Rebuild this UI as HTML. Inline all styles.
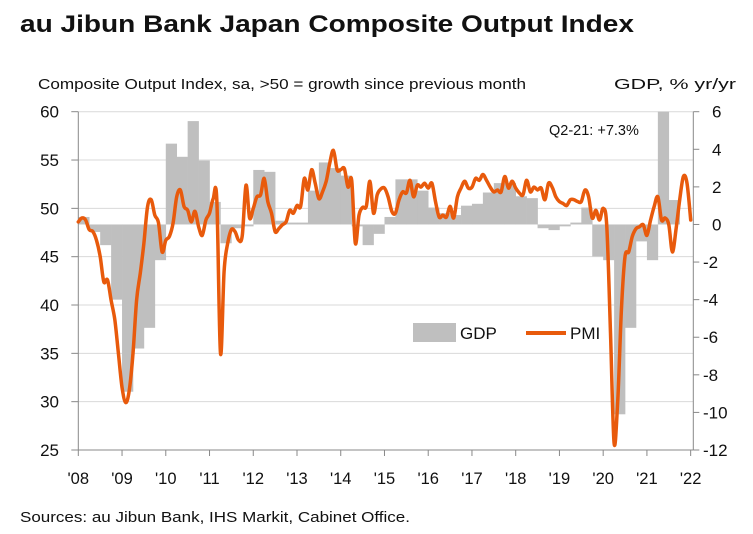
<!DOCTYPE html>
<html><head><meta charset="utf-8"><style>
body{margin:0;background:#fff;width:753px;height:534px;overflow:hidden;font-family:"Liberation Sans",sans-serif}
svg{display:block}
text{font-family:"Liberation Sans",sans-serif;fill:#111}
</style></head><body>
<svg id="chart" width="753" height="534">
<text x="20" y="32" font-size="24.5" font-weight="bold" textLength="614" lengthAdjust="spacingAndGlyphs">au Jibun Bank Japan Composite Output Index</text>
<text x="38" y="89" font-size="14.5" textLength="488" lengthAdjust="spacingAndGlyphs">Composite Output Index, sa, &gt;50 = growth since previous month</text>
<text x="614" y="89" font-size="14.5" textLength="122" lengthAdjust="spacingAndGlyphs">GDP, % yr/yr</text>
<text x="20" y="522" font-size="14.5" textLength="390" lengthAdjust="spacingAndGlyphs">Sources: au Jibun Bank, IHS Markit, Cabinet Office.</text>
<g id="grid"></g><g id="bars"></g><g id="axes"></g><g id="line"></g>
<text x="549" y="135" font-size="14.5">Q2-21: +7.3%</text>
<g>
<rect x="413" y="323" width="43" height="19" fill="#bfbfbf"></rect>
<text x="460" y="339" font-size="17">GDP</text>
<line x1="526" y1="333" x2="566" y2="333" stroke="#e85a0c" stroke-width="4"></line>
<text x="570" y="339" font-size="17">PMI</text>
</g>
</svg>
<script>
const leftTicks=[25,30,35,40,45,50,55,60];
const rightTicks=[-12,-10,-8,-6,-4,-2,0,2,4,6];
const yearLabels=["'08","'09","'10","'11","'12","'13","'14","'15","'16","'17","'18","'19","'20","'21","'22"];
const gdp=[0.4,-0.4,-1.1,-4.0,-8.9,-6.6,-5.5,-1.9,4.3,3.6,5.5,3.4,1.2,-1.0,-0.2,-0.1,2.9,2.8,0.2,0.1,0.1,1.8,3.3,3.0,2.6,-0.1,-1.1,-0.5,0.4,2.4,2.4,1.8,0.9,0.6,0.5,1.0,1.1,1.7,2.2,2.2,1.5,1.4,-0.2,-0.3,-0.1,0.1,0.9,-1.7,-1.9,-10.1,-5.5,-0.9,-1.9,7.3,1.3];
const pmi=[48.6,49.0,48.8,47.8,47.6,46.7,45.0,42.4,42.6,40.5,38.5,35.0,31.5,29.9,31.2,35.0,40.5,43.3,46.4,50.2,50.9,49.3,48.5,45.5,46.7,47.1,48.5,51.2,51.9,50.2,49.8,48.6,49.7,48.1,47.2,48.8,49.5,51.0,50.9,35.0,43.5,46.4,47.8,47.6,46.7,47.2,52.4,49.0,50.0,51.2,51.4,53.1,50.7,49.5,47.6,47.9,48.3,48.6,49.8,49.5,50.3,50.2,53.1,51.9,54.0,52.6,51.0,51.7,52.8,54.7,56.0,54.0,54.0,54.1,52.2,52.9,46.4,49.3,50.1,50.2,52.8,49.5,51.4,52.0,52.1,51.2,49.7,49.5,50.9,51.7,51.6,52.9,51.2,52.4,52.2,52.6,52.1,52.6,50.7,49.1,49.3,49.1,50.2,49.0,51.2,52.1,52.8,52.1,52.2,53.1,52.9,53.5,52.9,52.2,51.7,51.9,51.7,53.3,52.1,52.8,52.1,51.6,51.4,52.9,51.7,52.2,51.9,52.1,50.9,52.6,52.2,51.2,50.7,50.5,50.3,50.9,50.9,50.7,50.7,51.9,51.2,49.0,49.8,48.8,50.0,48.1,37.1,25.7,30.2,39.5,45.0,45.5,47.1,47.9,48.1,48.3,47.2,48.8,50.2,51.2,48.8,49.0,48.3,45.5,47.9,50.9,53.3,52.6,48.8];
const X0=78.3,X1=693.3,YT=111.7,YB=450,yr=43.74;
const NS="http://www.w3.org/2000/svg";
function yL(v){return YT+(60-v)*(YB-YT)/35;}
function yR(v){return YT+(6-v)*(YB-YT)/18;}
function xM(i){return X0+i*yr/12;}
function xQ(q){return X0+q*yr/4;}
function mk(tag,attrs,parent){const e=document.createElementNS(NS,tag);for(const k in attrs)e.setAttribute(k,attrs[k]);document.getElementById(parent).appendChild(e);return e;}
leftTicks.forEach(v=>{
 const g=mk('line',{x1:X0,x2:X1,y1:yL(v),y2:yL(v),stroke:'#d9d9d9','stroke-width':1},'grid');
 
 
 const t=mk('line',{x1:X0-7,x2:X0,y1:yL(v),y2:yL(v),stroke:'#888'},'axes');
 
 
 const l=mk('text',{x:59,y:yL(v)+6,'font-size':17,'text-anchor':'end'},'axes');
 l.textContent=v;
 
 
});
rightTicks.forEach(v=>{
 const t=mk('line',{x1:X1,x2:X1+6,y1:yR(v),y2:yR(v),stroke:'#888'},'axes');
 
 
 const l=mk('text',{x:v<0?703:712,y:yR(v)+6,'font-size':17},'axes');
 l.textContent=v;
 
 
});
yearLabels.forEach((s,i)=>{
 const x=X0+i*yr;
 const t=mk('line',{x1:x,x2:x,y1:YB,y2:YB+6,stroke:'#888'},'axes');
 
 
 const l=mk('text',{x:x,y:484,'font-size':16.5,'text-anchor':'middle'},'axes');
 l.textContent=s;
 
 
});
const ax1=mk('line',{x1:X0,x2:X0,y1:YT,y2:YB,stroke:'#888'},'axes');


const ax2=mk('line',{x1:X1,x2:X1,y1:YT,y2:YB,stroke:'#888'},'axes');


const ax3=mk('line',{x1:X0,x2:X1,y1:YB,y2:YB,stroke:'#888'},'axes');


gdp.forEach((v,q)=>{
 const a=Math.max(yR(v),YT),b=yR(0);
 const r=mk('rect',{x:xQ(q),y:Math.min(a,b),width:yr/4+0.3,height:Math.max(Math.abs(b-a),1),fill:'#bfbfbf'},'bars');
 
 
});
const pts=pmi.map((v,i)=>[xM(i),yL(v)]);
let d='M'+pts[0][0].toFixed(1)+','+pts[0][1].toFixed(1);
for(let i=0;i<pts.length-1;i++){
 const p0=pts[Math.max(i-1,0)],p1=pts[i],p2=pts[i+1],p3=pts[Math.min(i+2,pts.length-1)];
 const c1x=p1[0]+(p2[0]-p0[0])/6,c1y=p1[1]+(p2[1]-p0[1])/6;
 const c2x=p2[0]-(p3[0]-p1[0])/6,c2y=p2[1]-(p3[1]-p1[1])/6;
 d+='C'+c1x.toFixed(1)+','+c1y.toFixed(1)+' '+c2x.toFixed(1)+','+c2y.toFixed(1)+' '+p2[0].toFixed(1)+','+p2[1].toFixed(1);
}
const p=mk('path',{d:d,fill:'none',stroke:'#e85a0c','stroke-width':3.5,'stroke-linejoin':'round','stroke-linecap':'round'},'line');


</script>
</body></html>
